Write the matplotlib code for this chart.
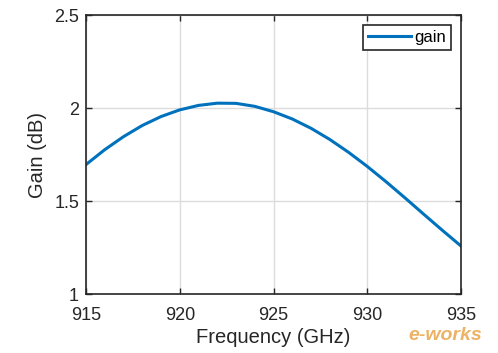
import matplotlib
matplotlib.use('Agg')
import matplotlib.pyplot as plt

plt.rcParams['font.family'] = ['Liberation Sans', 'DejaVu Sans']

# Frequency and gain
freq = [915, 916, 917, 918, 919, 920, 921, 922, 923, 924, 925,
        926, 927, 928, 929, 930, 931, 932, 933, 934, 935]
gain = [1.696, 1.776, 1.846, 1.906, 1.954, 1.990, 2.014, 2.026, 2.025, 2.009, 1.980,
        1.941, 1.891, 1.831, 1.762, 1.686, 1.604, 1.518, 1.430, 1.343, 1.258]
xticks = [915, 920, 925, 930, 935]
yticks = [1, 1.5, 2, 2.5]

fig = plt.figure(figsize=(4.98, 3.53), dpi=100)
ax = fig.add_axes([0.1727, 0.1671, 0.7530, 0.7904])

ax.plot(freq, gain, color='#0072BD', linewidth=2.2, label='gain',
        solid_joinstyle='round')

ax.set_xlim(915, 935)
ax.set_ylim(1, 2.5)
ax.set_xticks(xticks)
ax.set_yticks(yticks)
ax.set_yticklabels(['1', '1.5', '2', '2.5'])
ax.grid(True, color='#dcdcdc', linewidth=1)
ax.set_axisbelow(True)

for s in ax.spines.values():
    s.set_color('#262626')
    s.set_linewidth(1.2)
ax.tick_params(direction='in', length=4, width=1, colors='#262626',
               labelsize=13, top=True, right=True)
ax.tick_params(axis='x', pad=9)
ax.tick_params(axis='y', pad=5)

ax.set_xlabel('Frequency (GHz)', fontsize=14.5, color='#262626', labelpad=3)
ax.set_ylabel('Gain (dB)', fontsize=14.5, color='#262626', labelpad=5)

leg = ax.legend(loc='upper right', fontsize=12, handlelength=2.6,
                fancybox=False, framealpha=1, edgecolor='#262626',
                borderpad=0.3, handletextpad=0.2, borderaxespad=0.6)
leg.get_frame().set_linewidth(1.2)

# watermark
fig.text(0.894, 0.05, 'e-works', fontsize=14, style='italic', weight='bold',
         color='#e8a040', alpha=0.8, ha='center', va='center')

plt.savefig('out.png', dpi=100)
